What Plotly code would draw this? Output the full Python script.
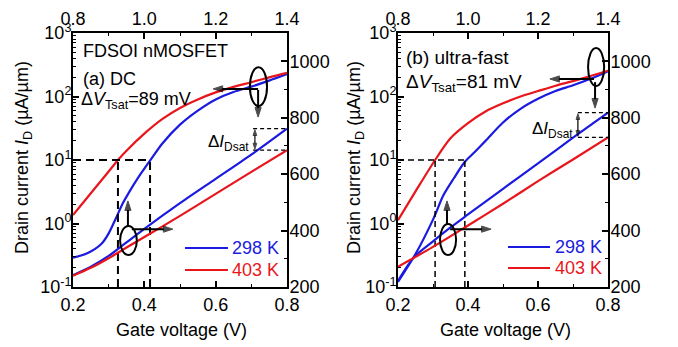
import plotly.graph_objects as go

# ---------------- data ----------------
# Panel (a) DC : log-scale curves vs bottom Vg axis (0.2-0.8 V)
a_blue_log_vg = [0.20, 0.24, 0.28, 0.30, 0.32, 0.34, 0.36, 0.38, 0.40, 0.42, 0.45, 0.50, 0.55, 0.60, 0.65, 0.70, 0.75, 0.80]
a_blue_log_id = [0.29, 0.34, 0.48, 0.70, 1.2, 2.1, 3.3, 5.0, 7.3, 10.5, 18, 36, 60, 90, 118, 143, 178, 225]
a_red_log_vg = [0.20, 0.25, 0.30, 0.326, 0.35, 0.40, 0.45, 0.50, 0.55, 0.60, 0.65, 0.70, 0.75, 0.80]
a_red_log_id = [1.36, 3.0, 6.6, 10, 14, 26, 44, 66, 90, 116, 142, 168, 200, 235]
# Panel (a) DC : linear-scale curves vs top Vg axis (0.8-1.4 V)
a_blue_lin_vg = [0.80, 0.85, 0.90, 0.95, 1.00, 1.10, 1.20, 1.30, 1.40]
a_blue_lin_id = [242, 272, 310, 358, 406, 497, 583, 669, 761]
a_red_lin_vg = [0.80, 0.85, 0.90, 0.95, 1.00, 1.10, 1.20, 1.30, 1.40]
a_red_lin_id = [240, 268, 302, 340, 377, 452, 530, 608, 685]
a_vt_298 = 0.416
a_vt_403 = 0.326

# Panel (b) ultra-fast
b_blue_log_vg = [0.20, 0.25, 0.30, 0.33, 0.36, 0.39, 0.42, 0.45, 0.50, 0.55, 0.60, 0.65, 0.70, 0.75, 0.80]
b_blue_log_id = [0.12, 0.33, 1.15, 2.8, 5.2, 9.2, 13.5, 20, 39, 64, 92, 122, 150, 190, 250]
b_red_log_vg = [0.20, 0.25, 0.306, 0.35, 0.40, 0.45, 0.50, 0.55, 0.60, 0.65, 0.70, 0.75, 0.80]
b_red_log_id = [1.13, 3.2, 10, 22, 38, 58, 78, 100, 122, 148, 175, 210, 255]
b_blue_lin_vg = [0.80, 0.845, 0.90, 0.95, 1.00, 1.10, 1.20, 1.30, 1.40]
b_blue_lin_id = [222, 305, 362, 411, 457, 548, 638, 729, 818]
b_red_lin_vg = [0.80, 0.90, 1.00, 1.10, 1.20, 1.30, 1.40]
b_red_lin_id = [272, 342, 418, 495, 575, 652, 730]
b_vt_298 = 0.391
b_vt_403 = 0.306

i_const = 10  # constant-current criterion (µA/µm)

bottom_ticks = [0.2, 0.4, 0.6, 0.8]
top_ticks = [0.8, 1.0, 1.2, 1.4]
log_ticks = [0.1, 1, 10, 100, 1000]
log_ticktext = ["10<sup>-1</sup>", "10<sup>0</sup>", "10<sup>1</sup>", "10<sup>2</sup>", "10<sup>3</sup>"]
lin_ticks = [200, 400, 600, 800, 1000]

BLUE = "#1a1ae0"
RED = "#e8161c"
FONT = "Liberation Sans, Arial, sans-serif"

# the page body has an 8 px margin: size the figure to the remaining window
OFF = 8
W, H = 678 - OFF, 347 - OFF
def fx(px):
    return (px - OFF) / W
def fy(py):
    return 1 - (py - OFF) / H

fig = go.Figure()

def curve(x, y, color, xa, ya):
    fig.add_trace(go.Scatter(x=x, y=y, mode="lines", xaxis=xa, yaxis=ya,
                             line=dict(color=color, width=2.2, shape="spline", smoothing=0.8),
                             showlegend=False, hoverinfo="skip"))

def dashed(x, y, xa, ya, width, dash):
    fig.add_trace(go.Scatter(x=x, y=y, mode="lines", xaxis=xa, yaxis=ya,
                             line=dict(color="black", width=width, dash=dash),
                             showlegend=False, hoverinfo="skip"))

def arrow(xa, ya, x0, y0, x1, y1, width=2, head=10):
    # line from (x0,y0) to (x1,y1) with an arrow head at (x1,y1)
    fig.add_trace(go.Scatter(x=[x0, x1], y=[y0, y1], mode="lines+markers", xaxis=xa, yaxis=ya,
                             line=dict(color="black", width=width),
                             marker=dict(symbol=["circle", "arrow"], size=[0, head], color="black",
                                         angleref="previous", line=dict(width=1, color="black")),
                             showlegend=False, hoverinfo="skip"))

# panel a
curve(a_blue_log_vg, a_blue_log_id, BLUE, "x", "y")
curve(a_red_log_vg, a_red_log_id, RED, "x", "y")
curve(a_blue_lin_vg, a_blue_lin_id, BLUE, "x2", "y2")
curve(a_red_lin_vg, a_red_lin_id, RED, "x2", "y2")
dashed([0.2, a_vt_298], [i_const, i_const], "x", "y", 2, "8px,5px")
dashed([a_vt_403, a_vt_403], [0.1, i_const], "x", "y", 2, "8px,5px")
dashed([a_vt_298, a_vt_298], [0.1, i_const], "x", "y", 2, "8px,5px")
dashed([1.305, 1.4], [a_blue_lin_id[-1]] * 2, "x2", "y2", 1.3, "4px,3px")
dashed([1.305, 1.4], [a_red_lin_id[-1]] * 2, "x2", "y2", 1.3, "4px,3px")

# panel b
curve(b_blue_log_vg, b_blue_log_id, BLUE, "x3", "y3")
curve(b_red_log_vg, b_red_log_id, RED, "x3", "y3")
curve(b_blue_lin_vg, b_blue_lin_id, BLUE, "x4", "y4")
curve(b_red_lin_vg, b_red_lin_id, RED, "x4", "y4")
dashed([0.2, b_vt_298], [i_const, i_const], "x3", "y3", 1.5, "6px,4px")
dashed([b_vt_403, b_vt_403], [0.1, i_const], "x3", "y3", 1.5, "6px,4px")
dashed([b_vt_298, b_vt_298], [0.1, i_const], "x3", "y3", 1.5, "6px,4px")
dashed([1.314, 1.4], [b_blue_lin_id[-1]] * 2, "x4", "y4", 1.3, "4px,3px")
dashed([1.314, 1.4], [b_red_lin_id[-1]] * 2, "x4", "y4", 1.3, "4px,3px")

# arrows (drawn on the linear overlay axes)
arrow("x2", "y2", 0.954, 413, 0.954, 505)
arrow("x2", "y2", 0.965, 405, 1.080, 405)
arrow("x2", "y2", 1.319, 902, 1.193, 902)
arrow("x2", "y2", 1.319, 898, 1.319, 802)
a_mid = (a_blue_lin_id[-1] + a_red_lin_id[-1]) / 2
arrow("x2", "y2", 1.310, a_mid, 1.310, a_blue_lin_id[-1] - 4, width=1.2, head=6)
arrow("x2", "y2", 1.310, a_mid, 1.310, a_red_lin_id[-1] + 4, width=1.2, head=6)

arrow("x4", "y4", 0.940, 423, 0.940, 505)
arrow("x4", "y4", 0.949, 405, 1.066, 405)
arrow("x4", "y4", 1.360, 937, 1.234, 937)
arrow("x4", "y4", 1.363, 926, 1.363, 834)
b_mid = (b_blue_lin_id[-1] + b_red_lin_id[-1]) / 2
arrow("x4", "y4", 1.314, b_mid, 1.314, b_blue_lin_id[-1] - 4, width=1.2, head=6)
arrow("x4", "y4", 1.314, b_mid, 1.314, b_red_lin_id[-1] + 4, width=1.2, head=6)

ax_common = dict(showline=True, linewidth=2, linecolor="black", ticks="inside",
                 ticklen=6, tickwidth=1.5, tickcolor="black", showgrid=False,
                 zeroline=False, tickfont=dict(size=18, color="black", family=FONT),
                 fixedrange=True, automargin=False)

dom_a = [fx(73), fx(287)]
dom_b = [fx(398), fx(608)]
dom_y = [fy(287), fy(33)]

def xbottom(dom, anchor):
    return dict(ax_common, domain=dom, anchor=anchor, range=[0.2, 0.8],
                tickvals=bottom_ticks, ticktext=[f"{v:.1f}" for v in bottom_ticks],
                minor=dict(dtick=0.1, ticks="inside", ticklen=3, tickwidth=1.2, tickcolor="black"))

def xtop(dom, over, anchor):
    return dict(ax_common, domain=dom, overlaying=over, anchor=anchor, side="top", range=[0.8, 1.4],
                tickvals=top_ticks, ticktext=[f"{v:.1f}" for v in top_ticks], ticklabelstandoff=-1,
                minor=dict(dtick=0.1, ticks="inside", ticklen=3, tickwidth=1.2, tickcolor="black"))

def yleft(anchor):
    return dict(ax_common, domain=dom_y, anchor=anchor, type="log", range=[-1, 3],
                tickvals=log_ticks, ticktext=log_ticktext, ticklabelstandoff=-4,
                minor=dict(dtick="D1", ticks="inside", ticklen=3, tickwidth=1, tickcolor="black"))

def yright(over, anchor):
    return dict(ax_common, domain=dom_y, overlaying=over, anchor=anchor, side="right", range=[200, 1100],
                tickvals=lin_ticks, ticktext=[str(v) for v in lin_ticks], ticklabelstandoff=-3,
                minor=dict(dtick=100, ticks="inside", ticklen=3, tickwidth=1.2, tickcolor="black"))

shapes = []
annotations = []

def ellipse(xr, yr, x0, x1, y0, y1):
    shapes.append(dict(type="circle", xref=xr, yref=yr, x0=x0, x1=x1, y0=y0, y1=y1,
                       line=dict(color="black", width=2), layer="above"))

def text(px, py, s, size=18, color="black", xanchor="left", angle=0):
    annotations.append(dict(xref="paper", yref="paper", x=fx(px), y=fy(py), text=s, showarrow=False,
                            xanchor=xanchor, yanchor="middle", textangle=angle,
                            font=dict(size=size, color=color, family=FONT)))

ellipse("x2", "y2", 0.932, 0.979, 313, 416)
ellipse("x2", "y2", 1.296, 1.344, 841, 979)
ellipse("x4", "y4", 0.920, 0.966, 313, 423)
ellipse("x4", "y4", 1.343, 1.389, 912, 1047)

# texts
text(81, 51, "FDSOI nMOSFET")
text(81, 79, "(a) DC")
text(79, 100, "Δ<i>V</i><sub>Tsat</sub>=89 mV")
text(251, 143, "Δ<i>I</i><sub>Dsat</sub>", size=17, xanchor="right")
text(404, 57, "(b) ultra-fast", size=19)
text(404, 83, "Δ<i>V</i><sub>Tsat</sub>=81 mV", size=19)
text(575, 130, "Δ<i>I</i><sub>Dsat</sub>", size=17, xanchor="right")

# legends
for (x0, x1, tx), rows in [((185, 228, 230), [(248, BLUE, "298 K"), (270, RED, "403 K")]),
                           ((508, 550, 553), [(247, BLUE, "298 K"), (268, RED, "403 K")])]:
    for py, col, lab in rows:
        shapes.append(dict(type="line", xref="paper", yref="paper", x0=fx(x0), x1=fx(x1),
                           y0=fy(py), y1=fy(py), line=dict(color=col, width=2.2)))
        text(tx, py, lab, size=18, color=col)

# axis titles
text(181, 330, "Gate voltage (V)", xanchor="center")
text(505, 330, "Gate voltage (V)", xanchor="center")
text(23, 158, "Drain current <i>I</i><sub>D</sub> (µA/µm)", xanchor="center", angle=-90)
text(355, 158, "Drain current <i>I</i><sub>D</sub> (µA/µm)", xanchor="center", angle=-90)

fig.update_layout(
    width=W, height=H, autosize=False,
    margin=dict(l=0, r=0, t=0, b=0, pad=0, autoexpand=False),
    paper_bgcolor="white", plot_bgcolor="white", showlegend=False,
    font=dict(family=FONT, size=18, color="black"),
    xaxis=xbottom(dom_a, "y"), xaxis2=xtop(dom_a, "x", "y"),
    yaxis=yleft("x"), yaxis2=yright("y", "x"),
    xaxis3=xbottom(dom_b, "y3"), xaxis4=xtop(dom_b, "x3", "y3"),
    yaxis3=yleft("x3"), yaxis4=yright("y3", "x3"),
    shapes=shapes, annotations=annotations,
)

fig.write_html("out.html")
